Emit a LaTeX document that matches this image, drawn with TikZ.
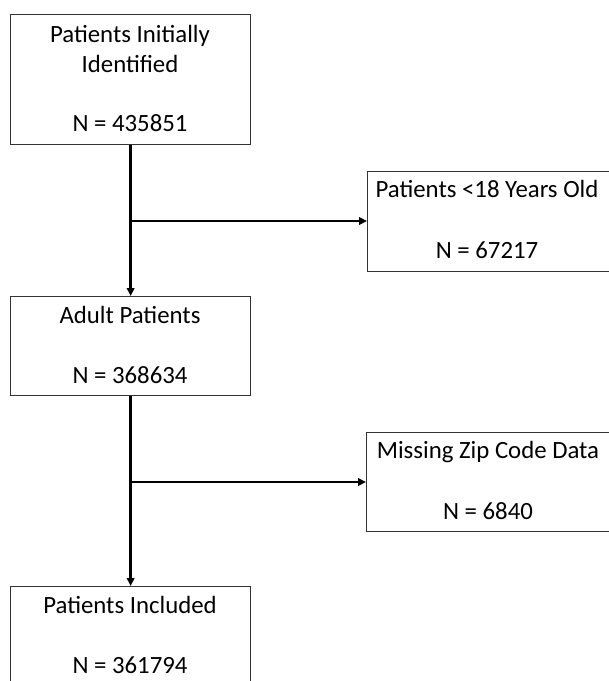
\documentclass[tikz,border=0pt]{standalone}
\usepackage{fontspec}
\setmainfont{Carlito}
\usetikzlibrary{arrows.meta}
\begin{document}
\begin{tikzpicture}[x=1pt,y=-1pt,
  box/.style={draw=black!80, line width=1.3pt, inner sep=0pt, anchor=north west},
  conn/.style={line width=2.4pt, -{Triangle[length=8pt,width=7.5pt]}},
  txt/.style={anchor=base, inner sep=0pt, font=\fontsize{24.8}{28}\selectfont}]
\useasboundingbox (0,0) rectangle (609,681);
\begin{scope}
\clip (0,0) rectangle (609,681);
\node[box, minimum width=240pt, minimum height=130pt] (b1) at (10,14) {};
\node[box, minimum width=246pt, minimum height=100pt] (s1) at (367,171) {};
\node[box, minimum width=240pt, minimum height=99pt] (b2) at (10,296) {};
\node[box, minimum width=247pt, minimum height=99pt] (s2) at (366,432) {};
\node[box, minimum width=240pt, minimum height=110pt] (b3) at (10,586) {};

\node[txt] (t1a) at (130,42) {Patients Initially};
\node[txt] (t1b) at (130,72) {Identified};
\node[txt] (t1c) at (130,131) {N = 435851};
\node[txt] (t2a) at (487,197) {Patients <18 Years Old};
\node[txt] (t2b) at (487,258) {N = 67217};
\node[txt] (t3a) at (130,323) {Adult Patients};
\node[txt] (t3b) at (130,383) {N = 368634};
\node[txt] (t4a) at (488,458) {Missing Zip Code Data};
\node[txt] (t4b) at (488,519) {N = 6840};
\node[txt] (t5a) at (130,613) {Patients Included};
\node[txt] (t5b) at (130,673) {N = 361794};

\coordinate (j1) at (130,221);
\coordinate (j2) at (130,482);
\draw[conn] (b1.south) -- (b2.north);
\draw[conn] (j1) -- (j1 -| s1.west);
\draw[conn] (b2.south) -- (b3.north);
\draw[conn] (j2) -- (j2 -| s2.west);
\end{scope}
\end{tikzpicture}
\end{document}
